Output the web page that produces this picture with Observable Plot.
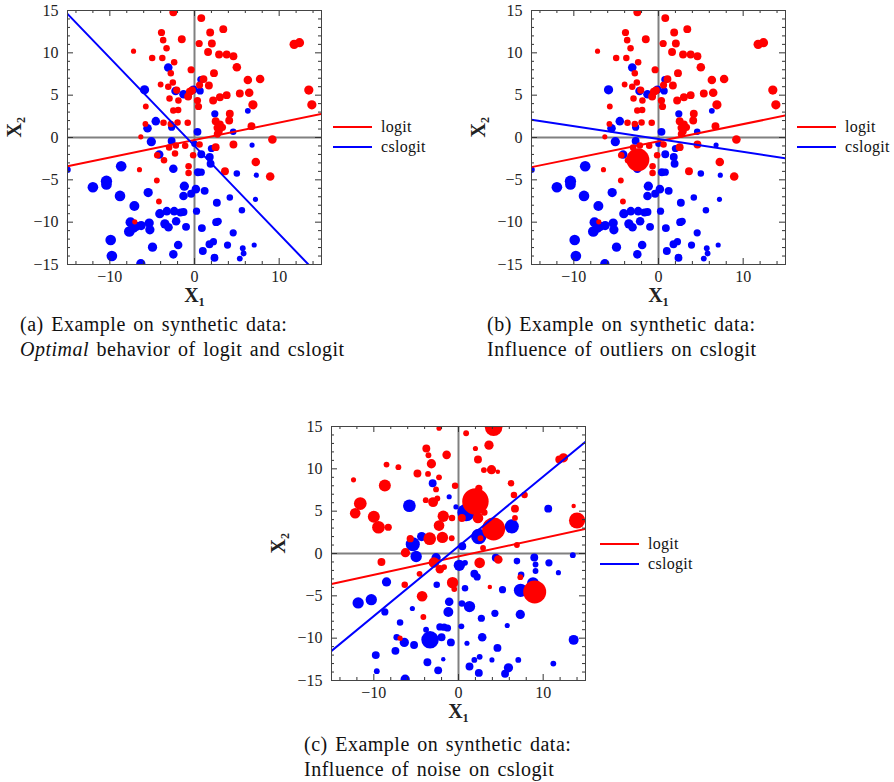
<!DOCTYPE html>
<html>
<head>
<meta charset="utf-8">
<script src="https://cdn.jsdelivr.net/npm/d3@7"></script>
<script src="https://cdn.jsdelivr.net/npm/@observablehq/plot@0.6"></script>
<style>
  html, body { margin: 0; padding: 0; background: #fff; }
  #root { position: relative; width: 894px; height: 782px; overflow: hidden; font-family: "Liberation Serif", "DejaVu Serif", serif; color: #111; }
  .panel { position: absolute; }
  .cap { position: absolute; font-size: 20px; line-height: 25px; letter-spacing: 0.5px; word-spacing: 2px; white-space: nowrap; }
  .leg { position: absolute; font-size: 16px; line-height: 20px; white-space: nowrap; letter-spacing: 0.3px; }
  .leg .row { display: flex; align-items: center; height: 20px; }
  .leg .sw { width: 39px; height: 0; border-top: 2px solid; margin-right: 9px; }
</style>
</head>
<body>
<div id="root"></div>
<script>
// ---- data ----
const xMajor = [-10, 0, 10];
const xMinor = [-14, -12, -8, -6, -4, -2, 2, 4, 6, 8, 12, 14];
const yMajor = [-15, -10, -5, 0, 5, 10, 15];
const yMinor = d3.range(-14, 15).filter(v => v % 5 !== 0);

const lineX = [-15, 15];
const logitA = [-3.4, 2.8];
const csA = [14.6, -16.6];
const logitB = [-3.5, 2.6];
const csB = [2.1, -2.45];
const logitC = [-3.6, 2.9];
const csC = [-11.5, 13.2];

// [x1, x2, weight]
const redAB = [[-2.5,14.8,8],[0.8,14.1,8],[-3.9,12.4,7],[1.85,12.4,8],[3.4,12.8,8],[-3.7,11.5,6],[-1.5,11.6,8],[0.55,11.1,7],[2.05,11.1,8],[-3.3,10.55,6],[-7.2,10.2,4],[1.6,10.1,8],[2.9,9.8,8],[3.8,9.8,8],[4.6,9.6,8],[-5.0,9.4,6],[-3.8,9.4,6],[-2.4,8.9,6],[-0.4,8.0,7],[-2.8,7.6,6],[2.3,7.6,8],[5.0,8.3,9],[1.06,6.9,8],[6.3,6.8,9],[7.75,6.9,9],[-2.56,6.5,6],[0.6,6.2,7],[1.7,6.14,8],[-4.0,6.26,5],[-3.1,6.0,6],[-2.1,5.6,7],[-0.55,5.4,8],[-0.75,4.84,8],[-0.3,5.55,8],[3.8,5.0,8],[5.35,5.2,8],[6.46,5.28,9],[13.5,5.6,10],[13.86,3.86,10],[6.9,3.86,10],[2.2,4.37,8],[3.0,4.76,8],[0.35,4.37,7],[0.47,3.66,7],[-2.95,4.6,6],[-1.9,4.37,6],[-5.75,3.66,5],[-2.5,3.2,6],[-1.93,3.26,6],[4.17,2.8,8],[4.1,2.0,8],[2.5,1.93,8],[3.0,1.53,8],[3.3,1.2,7],[2.67,1.14,7],[6.73,1.34,8],[-2.0,1.77,6],[-0.8,1.73,6],[-3.66,1.73,6],[-2.8,1.6,6],[-5.8,1.6,5],[2.87,0.75,8],[2.7,0.4,7],[9.2,-0.24,9],[4.6,-0.83,8],[2.5,-1.14,8],[0.6,-0.83,6],[-6.34,0.08,4],[-2.2,-0.94,6],[-3.0,-1.18,6],[-1.1,-0.98,6],[-4.4,-2.1,6],[-2.3,-1.9,6],[-0.16,-2.1,6],[-3.6,-2.7,6],[7.24,-2.9,9],[3.6,-3.98,8],[8.94,-4.6,9],[-0.7,-3.4,6],[-0.7,-4.2,6],[-6.5,-3.8,4],[-4.45,-5.08,5],[-4.2,-7.56,5],[-7.05,-9.96,4],[11.77,11.0,10],[12.4,11.2,10]];

const blueAB = [[-5.9,5.63,10],[-3.1,8.27,9],[-2.24,5.5,9],[-1.3,5.1,9],[-0.12,5.67,8],[0.75,6.85,7],[0.67,5.5,7],[2.4,2.8,7],[6.3,3.15,5],[-4.57,1.93,9],[-5.55,1.1,9],[-2.7,1.22,7],[0.35,0.67,8],[4.57,0.67,6],[-5.1,-0.5,10],[-2.7,-0.4,8],[0.0,-0.75,6],[0.8,-1.97,8],[1.8,-2.3,8],[2.0,-1.3,7],[-4.17,-2.0,9],[-2.5,-3.7,9],[-8.66,-3.39,12],[5.0,-4.25,6],[6.8,-0.9,4],[7.3,-4.45,4],[7.2,-7.3,4],[0.4,-4.1,8],[0.8,-4.1,7],[1.9,-3.1,8],[-10.4,-5.16,13],[-10.4,-5.55,12],[-12.0,-5.87,12],[-8.8,-6.9,12],[-5.47,-6.5,10],[-1.2,-5.75,10],[-1.3,-6.9,9],[0.16,-6.1,9],[-0.4,-6.65,8],[1.2,-6.3,8],[2.64,-7.7,8],[4.17,-7.1,6],[5.6,-8.6,6],[-7.1,-8.1,11],[-4.1,-9.0,10],[-3.27,-8.7,9],[-2.4,-8.7,9],[-1.65,-8.86,8],[-1.3,-8.8,8],[0.24,-8.7,7],[-7.56,-10.0,11],[-5.35,-10.1,10],[-5.27,-10.9,10],[-3.5,-10.2,10],[-3.07,-10.6,9],[-2.17,-9.9,9],[-1.0,-10.55,8],[0.87,-10.7,8],[2.56,-10.0,8],[2.8,-9.9,7],[4.57,-11.26,7],[-7.7,-11.1,12],[-7.24,-10.7,11],[-6.9,-10.5,10],[-6.3,-10.4,10],[-9.9,-12.1,12],[-4.96,-12.95,10],[-1.93,-12.7,9],[1.77,-12.6,8],[2.24,-12.3,7],[3.9,-12.7,7],[7.05,-12.7,4],[5.7,-13.07,5],[5.8,-13.7,5],[5.35,-14.3,5],[-9.76,-14.0,12],[-2.5,-13.8,9],[0.98,-13.4,8],[2.36,-14.2,8],[-6.34,-14.9,10],[-15,-3.8,6]];

const outlierB = [[-2.44,-2.64,30]];

const redC = [[4.15,14.9,22],[0.9,14.2,5],[-2.3,14.8,4],[3.6,12.8,10],[-3.8,12.4,8],[2.0,12.4,4],[-3.55,11.6,5],[-1.4,11.65,9],[2.3,11.1,8],[-3.2,10.6,10],[12.4,11.3,10],[11.9,11.1,8],[-8.5,10.5,5],[-7.1,10.2,5],[3.9,9.9,10],[3.0,9.85,5],[4.65,9.65,3],[-4.85,9.45,8],[-3.6,9.4,5],[-12.4,8.7,4],[-2.3,9.0,5],[-8.7,8.04,14],[-0.4,8.0,6],[-2.65,7.57,5],[2.4,7.7,7],[6.2,8.3,6],[6.55,6.9,6],[7.8,6.9,6],[2.0,6.15,35],[-11.6,5.9,15],[-12.2,4.75,12],[-10.0,4.35,14],[-9.45,3.1,15],[-8.3,3.1,7],[-3.0,6.07,11],[-3.87,6.3,5],[-2.5,6.5,5],[-1.8,4.4,13],[-0.77,4.2,6],[0.4,4.2,8],[3.05,4.85,6],[2.3,4.2,12],[4.15,2.9,30],[6.67,5.3,8],[6.67,4.2,5],[14.0,3.9,20],[13.6,5.6,3],[-2.3,3.3,12],[-3.4,1.75,15],[-1.9,1.9,13],[-0.8,1.8,5],[-5.7,1.75,7],[-6.27,0.1,10],[-9.1,-1.0,8],[-2.9,-1.06,12],[-2.2,-1.87,9],[2.5,-1.1,12],[4.7,-0.7,9],[6.9,1.0,5],[2.6,1.8,5],[2.9,0.65,5],[-0.7,-3.44,13],[-0.5,-4.2,5],[-6.35,-3.7,6],[-4.3,-5.05,12],[-4.15,-7.5,5],[9.0,-4.54,30],[7.3,-2.8,5],[3.7,-3.95,3],[-6.9,-10.0,4],[-4.6,-2.4,5],[-1.7,-1.6,5]];

const blueC = [[-3.05,8.3,8],[-5.8,5.64,15],[0.9,4.85,22],[10.6,5.3,8],[6.3,3.2,17],[2.4,2.0,19],[-4.35,2.0,10],[-5.4,1.1,17],[0.45,0.85,8],[-5.0,-0.35,13],[-2.65,-0.5,10],[0.1,-1.4,13],[0.77,-1.1,5],[1.87,-2.4,8],[2.2,-2.77,7],[4.4,-0.5,8],[6.9,-0.9,6],[8.95,-0.47,8],[9.1,-1.3,5],[9.1,-2.07,5],[10.68,-1.1,7],[11.8,-2.26,4],[13.5,-0.2,5],[8.8,-3.5,14],[7.33,-4.35,16],[7.4,-2.5,6],[5.2,-4.27,7],[1.3,-6.27,13],[0.77,-4.1,6],[0.4,-5.9,6],[-1.1,-5.7,9],[-1.2,-6.9,11],[-2.57,-3.7,6],[-8.5,-3.36,10],[-10.3,-5.45,13],[-11.85,-5.84,13],[-8.7,-6.9,7],[-5.45,-6.5,4],[-6.9,-8.16,6],[-3.83,-9.0,5],[-3.36,-10.2,22],[-2.0,-9.9,8],[-2.2,-8.67,7],[-1.7,-8.7,7],[-1.3,-8.8,7],[0.34,-8.6,5],[-0.9,-10.5,8],[2.7,-7.65,7],[4.3,-7.06,7],[7.3,-7.2,10],[5.76,-8.5,4],[2.8,-9.9,9],[1.0,-10.6,4],[4.6,-11.15,8],[-6.4,-10.5,10],[-7.3,-9.9,6],[-5.25,-10.8,8],[-7.45,-11.5,8],[-9.77,-12.0,8],[-9.65,-13.9,5],[-3.67,-12.85,8],[-2.4,-13.8,8],[-1.8,-12.5,3],[1.3,-13.35,8],[1.87,-12.57,5],[2.5,-12.2,5],[3.95,-12.57,4],[2.4,-14.1,8],[7.06,-12.57,5],[5.9,-13.5,10],[5.5,-14.2,8],[11.2,-13.0,5],[13.6,-10.2,11],[-6.3,-14.85,10],[-1.1,6.7,4],[-0.3,5.5,4]];

const seriesNames = ["logit", "cslogit"];
const RED = "#ff0000", BLUE = "#0000ff";
const SERIF = "'Liberation Serif', 'DejaVu Serif', serif";

const captions = [
  {id: "a", lines: ["(a) Example on synthetic data:", "<i>Optimal</i> behavior of logit and cslogit"]},
  {id: "b", lines: ["(b) Example on synthetic data:", "Influence of outliers on cslogit"]},
  {id: "c", lines: ["(c) Example on synthetic data:", "Influence of noise on cslogit"]}
];

// ---- drawing ----
const W = 330, H = 310, ML = 67, MR = 9, MT = 10, MB = 46;
const FH = H - MT - MB, FW = W - ML - MR;

function seg(ys) { return lineX.map((x, i) => ({x, y: ys[i]})); }

function panel({red, blue, extra, logit, cs}) {
  const dotOpts = (fill) => ({x: d => d[0], y: d => d[1], r: d => d[2], fill, stroke: "none", clip: true});
  const tk = "#333";
  return Plot.plot({
    width: W, height: H, marginLeft: ML, marginRight: MR, marginTop: MT, marginBottom: MB,
    x: {domain: [-15, 15]},
    y: {domain: [-15, 15]},
    r: {type: "linear", domain: [0, 30], range: [1.2, 11.5]},
    style: {fontFamily: SERIF, fontSize: "16px", color: "#222", background: "transparent", overflow: "visible"},
    marks: [
      Plot.ruleX([0], {stroke: "#808080", strokeWidth: 2}),
      Plot.ruleY([0], {stroke: "#808080", strokeWidth: 2}),
      Plot.dot(blue, dotOpts(BLUE)),
      Plot.dot(red, dotOpts(RED)),
      extra ? Plot.dot(extra, dotOpts(RED)) : null,
      Plot.line(seg(logit), {x: "x", y: "y", stroke: RED, strokeWidth: 2, clip: true}),
      Plot.line(seg(cs), {x: "x", y: "y", stroke: BLUE, strokeWidth: 2, clip: true}),
      // inward ticks on all four sides
      Plot.tickX(xMinor, {x: d => d, insetTop: FH - 3, stroke: tk}),
      Plot.tickX(xMinor, {x: d => d, insetBottom: FH - 3, stroke: tk}),
      Plot.tickX(xMajor, {x: d => d, insetTop: FH - 6, stroke: tk}),
      Plot.tickX(xMajor, {x: d => d, insetBottom: FH - 6, stroke: tk}),
      Plot.tickY(yMinor, {y: d => d, insetRight: FW - 3, stroke: tk}),
      Plot.tickY(yMinor, {y: d => d, insetLeft: FW - 3, stroke: tk}),
      Plot.tickY(yMajor, {y: d => d, insetRight: FW - 6, stroke: tk}),
      Plot.tickY(yMajor, {y: d => d, insetLeft: FW - 6, stroke: tk}),
      Plot.frame({stroke: "#444", strokeWidth: 1}),
      Plot.axisX({ticks: xMajor, tickSize: 0, tickPadding: 6, label: null, fontSize: 16}),
      Plot.axisY({ticks: yMajor, tickSize: 0, tickPadding: 9, label: null, fontSize: 16}),
      Plot.text(["X₁"], {text: d => d, frameAnchor: "bottom", dy: 37, fontWeight: "bold", fontSize: 20, fill: "#222"}),
      Plot.text(["X₂"], {text: d => d, frameAnchor: "left", dx: -53, rotate: -90, fontWeight: "bold", fontSize: 20, fill: "#222"})
    ].filter(Boolean)
  });
}

const root = document.getElementById("root");
function place(el, left, top) {
  const d = document.createElement("div");
  d.className = "panel";
  d.style.left = left + "px";
  d.style.top = top + "px";
  d.appendChild(el);
  root.appendChild(d);
}
function legend(left, top) {
  const d = document.createElement("div");
  d.className = "leg";
  d.style.left = left + "px";
  d.style.top = top + "px";
  d.innerHTML = seriesNames.map((n, i) =>
    `<div class="row"><span class="sw" style="border-color:${i ? BLUE : RED}"></span>${n}</div>`).join("");
  root.appendChild(d);
}
function caption(c, left, top) {
  const d = document.createElement("div");
  d.className = "cap";
  d.style.left = left + "px";
  d.style.top = top + "px";
  d.innerHTML = c.lines.join("<br>");
  root.appendChild(d);
}

place(panel({red: redAB, blue: blueAB, logit: logitA, cs: csA}), 0, 0);
place(panel({red: redAB, blue: blueAB, extra: outlierB, logit: logitB, cs: csB}), 464, 0);
place(panel({red: redC, blue: blueC, logit: logitC, cs: csC}), 264, 416);

legend(333, 117);
legend(797, 117);
legend(600, 534);

caption(captions[0], 20, 312);
caption(captions[1], 487, 312);
caption(captions[2], 304, 732);
</script>
</body>
</html>
